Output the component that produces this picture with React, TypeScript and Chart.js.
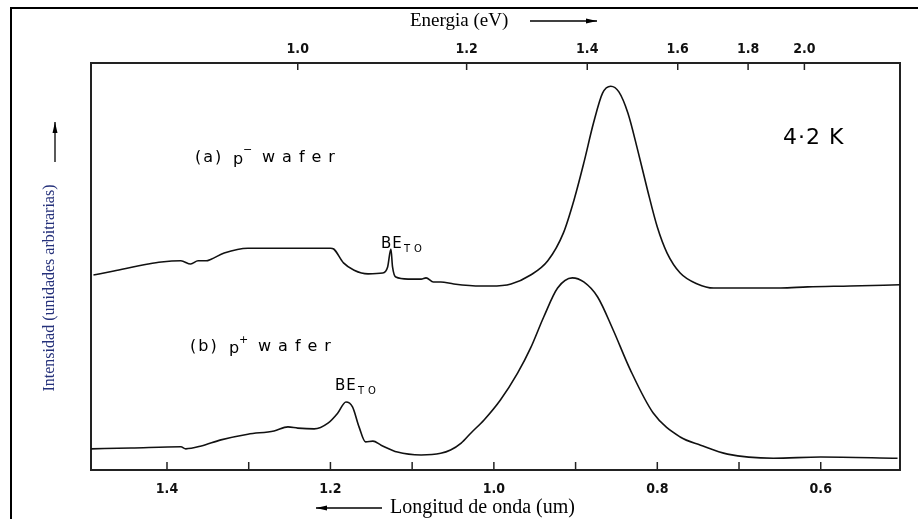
import React, { useEffect, useRef } from 'react';
import { Chart, registerables } from 'chart.js';

Chart.register(...registerables);

// Curve (a) p- wafer
const A_WAVELENGTH = [1.490, 1.465, 1.423, 1.407, 1.383, 1.371, 1.362, 1.352, 1.346, 1.330, 1.301, 1.281, 1.240, 1.200, 1.196, 1.184, 1.171, 1.154, 1.136, 1.130, 1.126, 1.124, 1.120, 1.105, 1.089, 1.083, 1.074, 1.065, 1.049, 1.016, 1.004, 0.979, 0.955, 0.934, 0.915, 0.902, 0.890, 0.878, 0.867, 0.857, 0.847, 0.836, 0.824, 0.812, 0.800, 0.788, 0.772, 0.751, 0.731, 0.698, 0.649, 0.616, 0.564, 0.503];
const A_INTENSITY = [47.9, 48.9, 50.6, 51.1, 51.4, 50.6, 51.4, 51.4, 51.8, 53.3, 54.5, 54.5, 54.5, 54.5, 54.3, 50.9, 49.1, 48.2, 48.4, 49.9, 54.3, 49.9, 47.4, 46.9, 46.9, 47.2, 46.2, 46.2, 45.7, 45.2, 45.2, 45.7, 47.9, 51.4, 58.2, 66.3, 75.4, 85.3, 92.6, 94.3, 92.9, 87.7, 78.6, 68.8, 59.7, 53.3, 48.4, 45.7, 44.7, 44.7, 44.7, 45.0, 45.2, 45.5];

// Curve (b) p+ wafer
const B_WAVELENGTH = [1.493, 1.444, 1.383, 1.377, 1.358, 1.334, 1.301, 1.269, 1.252, 1.240, 1.220, 1.203, 1.191, 1.181, 1.173, 1.165, 1.157, 1.148, 1.138, 1.118, 1.089, 1.065, 1.053, 1.040, 1.028, 1.012, 0.992, 0.971, 0.955, 0.939, 0.922, 0.904, 0.890, 0.873, 0.854, 0.833, 0.805, 0.772, 0.747, 0.714, 0.658, 0.600, 0.506];
const B_INTENSITY = [5.2, 5.4, 5.7, 5.2, 5.9, 7.4, 8.8, 9.6, 10.6, 10.3, 10.1, 11.5, 14.0, 16.7, 15.5, 10.6, 6.9, 7.1, 6.1, 4.4, 3.7, 4.1, 4.9, 6.6, 9.1, 12.3, 17.2, 23.8, 30.0, 37.6, 44.7, 47.2, 46.2, 42.5, 34.4, 24.6, 14.0, 8.1, 6.1, 3.9, 2.9, 3.2, 2.9];

const WAVELENGTH_TICKS = [1.4, 1.3, 1.2, 1.1, 1.0, 0.9, 0.8, 0.7, 0.6];
const WAVELENGTH_LABELS = ['1.4', '', '1.2', '', '1.0', '', '0.8', '', '0.6'];
const ENERGY_TICKS = [1.0, 1.2, 1.4, 1.6, 1.8, 2.0];
const ENERGY_LABELS = ['1.0', '1.2', '1.4', '1.6', '1.8', '2.0'];
const HC = 1.24; // eV·um
const X_MIN = 0.503;
const X_MAX = 1.493;

function arrow(ctx: CanvasRenderingContext2D, x1: number, y1: number, x2: number, y2: number) {
  const ang = Math.atan2(y2 - y1, x2 - x1);
  ctx.save();
  ctx.strokeStyle = '#000';
  ctx.fillStyle = '#000';
  ctx.lineWidth = 1.3;
  ctx.beginPath();
  ctx.moveTo(x1, y1);
  ctx.lineTo(x2, y2);
  ctx.stroke();
  const L = 11, W = 2.5;
  ctx.beginPath();
  ctx.moveTo(x2, y2);
  ctx.lineTo(x2 - L * Math.cos(ang) + W * Math.sin(ang), y2 - L * Math.sin(ang) - W * Math.cos(ang));
  ctx.lineTo(x2 - L * Math.cos(ang) - W * Math.sin(ang), y2 - L * Math.sin(ang) + W * Math.cos(ang));
  ctx.closePath();
  ctx.fill();
  ctx.restore();
}

function txt(ctx: any, s: string, x: number, y: number, font: string, spacing = 0, color = '#000') {
  ctx.save();
  ctx.font = font;
  ctx.fillStyle = color;
  ctx.textAlign = 'left';
  ctx.textBaseline = 'middle';
  ctx.letterSpacing = spacing + 'px';
  ctx.fillText(s, x, y);
  ctx.restore();
}

const decorPlugin = {
  id: 'decor',
  afterDraw(chart: any) {
    const ctx = chart.ctx as CanvasRenderingContext2D;
    const { top, bottom } = chart.chartArea;
    const xs = chart.scales.x;
    const x2s = chart.scales.x2;
    ctx.save();
    ctx.strokeStyle = '#222';
    ctx.lineWidth = 1.5;
    WAVELENGTH_TICKS.forEach((v) => {
      const px = xs.getPixelForValue(v);
      ctx.beginPath();
      ctx.moveTo(px, bottom);
      ctx.lineTo(px, bottom - 8);
      ctx.stroke();
    });
    ENERGY_TICKS.forEach((e) => {
      const px = x2s.getPixelForValue(HC / e);
      ctx.beginPath();
      ctx.moveTo(px, top);
      ctx.lineTo(px, top + 7);
      ctx.stroke();
    });
    // outer frame
    ctx.strokeStyle = '#000';
    ctx.lineWidth = 2;
    ctx.beginPath();
    ctx.moveTo(11, 530);
    ctx.lineTo(11, 8);
    ctx.lineTo(918, 8);
    ctx.stroke();
    ctx.restore();

    // axis titles
    txt(ctx, 'Energia (eV)', 410, 21, '19px "Liberation Serif"');
    arrow(ctx, 530, 21, 597, 21);
    txt(ctx, 'Longitud de onda (um)', 390, 508, '20px "Liberation Serif"');
    arrow(ctx, 382, 508, 316, 508);

    ctx.save();
    ctx.translate(50, 288);
    ctx.rotate(-Math.PI / 2);
    ctx.font = '16px "Liberation Serif"';
    ctx.fillStyle = '#24307a';
    ctx.textAlign = 'center';
    ctx.textBaseline = 'middle';
    ctx.fillText('Intensidad (unidades arbitrarias)', 0, 0);
    ctx.restore();
    arrow(ctx, 55, 162, 55, 122);

    // annotations
    const f = '16px "DejaVu Sans"';
    txt(ctx, '(a)', 195, 158, f, 2);
    txt(ctx, 'p', 233, 160, f);
    txt(ctx, '\u2212', 243, 150, '11px "DejaVu Sans"');
    txt(ctx, 'wafer', 262, 158, f, 7);
    txt(ctx, '(b)', 190, 347, f, 2);
    txt(ctx, 'p', 229, 349, f);
    txt(ctx, '+', 239, 340, '11px "DejaVu Sans"');
    txt(ctx, 'wafer', 258, 347, f, 7);

    txt(ctx, 'BE', 381, 244, '15px "DejaVu Sans"', 1);
    txt(ctx, 'TO', 404, 249, '10px "DejaVu Sans"', 4);
    txt(ctx, 'BE', 335, 386, '15px "DejaVu Sans"', 1);
    txt(ctx, 'TO', 358, 391, '10px "DejaVu Sans"', 4);

    txt(ctx, '4\u00B72 K', 783, 138, '22px "DejaVu Sans"', 1);
  },
};

export default function App() {
  const ref = useRef<HTMLCanvasElement>(null);
  useEffect(() => {
    if (!ref.current) return;
    const tickFont = { family: '"DejaVu Sans Condensed", "DejaVu Sans", sans-serif', size: 14, weight: 'bold' as const };
    const chart = new Chart(ref.current, {
      type: 'line',
      data: {
        datasets: [
          {
            label: '(a) p- wafer',
            data: A_WAVELENGTH.map((x, i) => ({ x, y: A_INTENSITY[i] })),
            borderColor: '#111',
            borderWidth: 1.6,
            pointRadius: 0,
            fill: false,
            cubicInterpolationMode: 'monotone',
          },
          {
            label: '(b) p+ wafer',
            data: B_WAVELENGTH.map((x, i) => ({ x, y: B_INTENSITY[i] })),
            borderColor: '#111',
            borderWidth: 1.6,
            pointRadius: 0,
            fill: false,
            cubicInterpolationMode: 'monotone',
          },
        ],
      },
      options: {
        responsive: false,
        animation: false,
        devicePixelRatio: 1,
        layout: { padding: 0 },
        plugins: { legend: { display: false }, tooltip: { enabled: false } },
        scales: {
          x: {
            type: 'linear',
            position: 'bottom',
            reverse: true,
            min: X_MIN,
            max: X_MAX,
            grid: { display: false },
            border: { display: true, color: '#222', width: 2 },
            afterBuildTicks: (s: any) => { s.ticks = WAVELENGTH_TICKS.map((v) => ({ value: v })); },
            afterFit: (s: any) => { s.height = 49; },
            ticks: {
              autoSkip: false,
              maxRotation: 0,
              padding: 3,
              color: '#111',
              font: tickFont,
              callback: (v: any) => {
                const i = WAVELENGTH_TICKS.findIndex((t) => Math.abs(t - Number(v)) < 1e-6);
                return i >= 0 ? WAVELENGTH_LABELS[i] : '';
              },
            },
          },
          x2: {
            type: 'linear',
            position: 'top',
            reverse: true,
            min: X_MIN,
            max: X_MAX,
            grid: { display: false },
            border: { display: true, color: '#222', width: 2 },
            afterBuildTicks: (s: any) => { s.ticks = ENERGY_TICKS.map((e) => ({ value: HC / e })); },
            afterFit: (s: any) => { s.height = 63; },
            ticks: {
              autoSkip: false,
              maxRotation: 0,
              padding: -3,
              color: '#111',
              font: tickFont,
              callback: (v: any) => {
                const i = ENERGY_TICKS.findIndex((e) => Math.abs(HC / e - Number(v)) < 1e-6);
                return i >= 0 ? ENERGY_LABELS[i] : '';
              },
            },
          },
          y: {
            type: 'linear',
            position: 'left',
            min: 0,
            max: 100,
            grid: { display: false },
            border: { display: true, color: '#222', width: 2 },
            ticks: { display: false },
            afterFit: (s: any) => { s.width = 91; },
          },
          y2: {
            type: 'linear',
            position: 'right',
            min: 0,
            max: 100,
            grid: { display: false },
            border: { display: true, color: '#222', width: 2 },
            ticks: { display: false },
            afterFit: (s: any) => { s.width = 22; },
          },
        },
      },
      plugins: [decorPlugin],
    } as any);
    return () => chart.destroy();
  }, []);

  return (
    <div style={{ position: 'fixed', left: 0, top: 0, width: 922, height: 519, background: '#fff' }}>
      <canvas ref={ref} width={922} height={519} style={{ display: 'block' }} />
    </div>
  );
}
